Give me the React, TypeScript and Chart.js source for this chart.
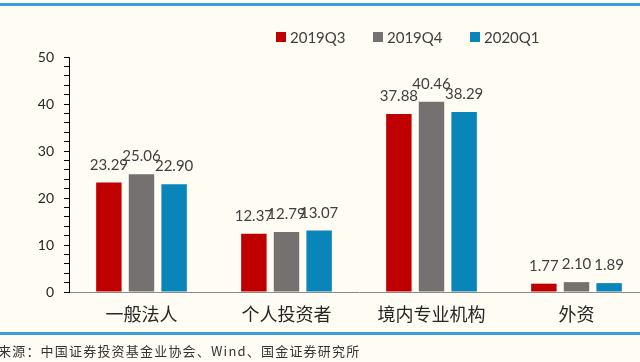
import React, { useEffect, useRef } from "react";
import { Chart, registerables } from "chart.js";

Chart.register(...registerables);

const categories = ["一般法人", "个人投资者", "境内专业机构", "外资"];
const seriesNames = ["2019Q3", "2019Q4", "2020Q1"];
const values2019Q3 = [23.29, 12.37, 37.88, 1.77];
const values2019Q4 = [25.06, 12.79, 40.46, 2.1];
const values2020Q1 = [22.9, 13.07, 38.29, 1.89];
const seriesColors = ["#C00000", "#767171", "#0A85B9"];
const yMin = 0;
const yMax = 50;
const yStep = 2;
const yLabelStep = 10;
const sourceText = "来源：中国证券投资基金业协会、Wind、国金证券研究所";

const BG = "#FFFCF4";
const LINE_BLUE = "#3A9ED9";

const dataLabelPlugin = {
  id: "dataLabels",
  afterDatasetsDraw(chart: any) {
    const ctx = chart.ctx;
    ctx.save();
    ctx.font = "15px Lato";
    ctx.fillStyle = "#404040";
    ctx.textAlign = "center";
    ctx.textBaseline = "alphabetic";
    chart.data.datasets.forEach((ds: any, i: number) => {
      const meta = chart.getDatasetMeta(i);
      meta.data.forEach((el: any, j: number) => {
        const v = ds.data[j] as number;
        ctx.fillText(v.toFixed(2), el.x, el.y - 13);
      });
    });
    ctx.restore();
  },
};

const legendPlugin = {
  id: "customLegend",
  afterDraw(chart: any) {
    const ctx = chart.ctx;
    ctx.save();
    ctx.font = "15px Lato";
    ctx.textBaseline = "middle";
    ctx.textAlign = "left";
    const startX = 276;
    const pitch = 97;
    const cy = 37;
    chart.data.datasets.forEach((ds: any, i: number) => {
      const x = startX + i * pitch;
      ctx.fillStyle = ds.backgroundColor;
      ctx.fillRect(x, cy - 5, 10, 10);
      ctx.fillStyle = "#404040";
      ctx.fillText(ds.label, x + 14, cy + 1);
    });
    ctx.restore();
  },
};

export default function App() {
  const canvasRef = useRef<HTMLCanvasElement | null>(null);

  useEffect(() => {
    if (!canvasRef.current) return;
    const allSeries = [values2019Q3, values2019Q4, values2020Q1];
    const chart = new Chart(canvasRef.current, {
      type: "bar",
      data: {
        labels: categories,
        datasets: allSeries.map((vals, i) => ({
          label: seriesNames[i],
          data: vals,
          backgroundColor: seriesColors[i],
          borderWidth: 0,
          categoryPercentage: 0.675,
          barPercentage: 0.78,
        })),
      },
      options: {
        animation: false,
        responsive: false,
        maintainAspectRatio: false,
        devicePixelRatio: 1,
        layout: { padding: { top: 57, left: 0, right: 1, bottom: 0 } },
        plugins: {
          legend: { display: false },
          tooltip: { enabled: false },
        },
        scales: {
          x: {
            type: "category",
            offset: true,
            grid: { display: true, drawOnChartArea: false, drawTicks: false },
            border: { display: true, color: "#8C8C8C", width: 1 },
            ticks: {
              color: "#262626",
              padding: 11,
              font: { family: "'Noto Sans CJK SC'", size: 18 },
              maxRotation: 0,
              autoSkip: false,
            },
            afterFit: (scale: any) => {
              scale.height = 48;
            },
          },
          y: {
            min: yMin,
            max: yMax,
            grid: {
              display: true,
              drawOnChartArea: false,
              drawTicks: true,
              tickLength: 5,
              color: "#000000",
            },
            border: { display: true, color: "#000000", width: 1 },
            ticks: {
              stepSize: yStep,
              padding: 10,
              color: "#262626",
              font: { family: "Lato", size: 14 },
              autoSkip: false,
              callback: (v: any) => (Number(v) % yLabelStep === 0 ? String(v) : ""),
            },
            afterFit: (scale: any) => {
              scale.width = 69;
            },
          },
        },
      },
      plugins: [dataLabelPlugin, legendPlugin],
    });
    return () => chart.destroy();
  }, []);

  return (
    <div
      style={{
        position: "fixed",
        left: 0,
        top: 0,
        width: 640,
        height: 362,
        overflow: "hidden",
        background: BG,
      }}
    >
      <div style={{ position: "absolute", left: 0, top: 3, width: 640, height: 3, background: LINE_BLUE }} />
      <canvas
        ref={canvasRef}
        width={650}
        height={340}
        style={{ position: "absolute", left: 0, top: 0, width: 650, height: 340 }}
      />
      <div style={{ position: "absolute", left: 0, top: 332, width: 640, height: 3, background: LINE_BLUE }} />
      <div
        style={{
          position: "absolute",
          left: -2,
          top: 342,
          fontFamily: "'Noto Sans CJK SC'",
          fontSize: 13,
          lineHeight: "18px",
          letterSpacing: 1.2,
          color: "#333333",
          whiteSpace: "nowrap",
        }}
      >
        {sourceText}
      </div>
    </div>
  );
}
